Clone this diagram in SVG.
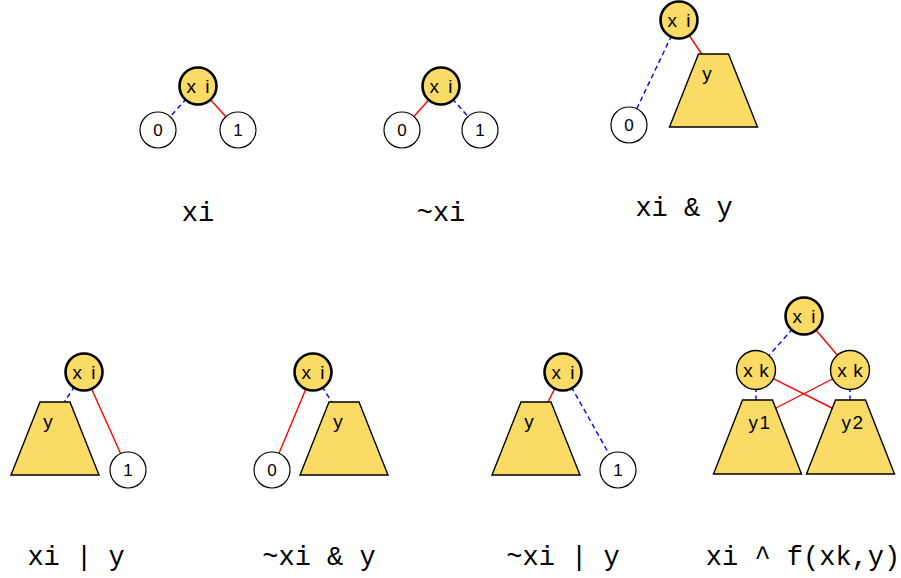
<svg xmlns="http://www.w3.org/2000/svg" width="901" height="578" viewBox="0 0 901 578">
<style>
.var{fill:#FADB66;stroke:#000;stroke-width:2.6}
.var2{fill:#FADB66;stroke:#000;stroke-width:1.4}
.term{fill:#fff;stroke:#000;stroke-width:1.2}
.trap{fill:#FADB66;stroke:#000;stroke-width:1.4;stroke-linejoin:miter}
.hi{stroke:#FF0000;stroke-width:1.4;fill:none}
.lo{stroke:#0000FF;stroke-width:1.4;stroke-dasharray:5,3.5;fill:none}
.nl{font-family:"Liberation Sans",Arial,sans-serif;font-size:19px;text-anchor:middle;fill:#000}
.tl{font-family:"Liberation Sans",Arial,sans-serif;font-size:17px;text-anchor:middle;fill:#000}
.cap{font-family:"Liberation Mono","Courier New",monospace;font-size:27px;text-anchor:middle;fill:#000}
</style>
<rect width="901" height="578" fill="#fff"/>
<g id="connectors">
<line class="lo" x1="198" y1="86" x2="158" y2="130"/>
<line class="hi" x1="198" y1="86" x2="238" y2="130"/>
<line class="hi" x1="441" y1="86" x2="402" y2="130"/>
<line class="lo" x1="441" y1="86" x2="480" y2="130"/>
<line class="lo" x1="679" y1="20" x2="629" y2="125"/>
<line class="hi" x1="679" y1="20" x2="703" y2="56"/>
<line class="lo" x1="84" y1="372" x2="63" y2="404"/>
<line class="hi" x1="84" y1="372" x2="128" y2="470"/>
<line class="hi" x1="313" y1="372" x2="272" y2="470"/>
<line class="lo" x1="313" y1="372" x2="333" y2="404"/>
<line class="hi" x1="563" y1="372" x2="547" y2="404"/>
<line class="lo" x1="563" y1="372" x2="618" y2="470"/>
<line class="lo" x1="804" y1="316" x2="756" y2="370"/>
<line class="hi" x1="804" y1="316" x2="850" y2="370"/>
<line class="lo" x1="756" y1="370" x2="756" y2="402"/>
<line class="lo" x1="850" y1="370" x2="850" y2="402"/>
<line class="hi" x1="756" y1="370" x2="836" y2="410"/>
<line class="hi" x1="850" y1="370" x2="772" y2="410"/>
</g>
<g id="d1">
<g id="d1-xi"><circle class="var" cx="198" cy="86" r="18.5"/><text class="nl" x="198" y="93" word-spacing="4">x i</text></g>
<g id="d1-0"><circle class="term" cx="158" cy="130" r="18"/><text class="tl" x="158" y="136">0</text></g>
<g id="d1-1"><circle class="term" cx="238" cy="130" r="18"/><text class="tl" x="238" y="136">1</text></g>
<text class="cap" x="198" y="221">xi</text>
</g>
<g id="d2">
<g id="d2-xi"><circle class="var" cx="441" cy="86" r="18.5"/><text class="nl" x="441" y="93" word-spacing="4">x i</text></g>
<g id="d2-0"><circle class="term" cx="402" cy="130" r="18"/><text class="tl" x="402" y="136">0</text></g>
<g id="d2-1"><circle class="term" cx="480" cy="130" r="18"/><text class="tl" x="480" y="136">1</text></g>
<text class="cap" x="441" y="221">~xi</text>
</g>
<g id="d3">
<g id="d3-xi"><circle class="var" cx="679" cy="20" r="18.5"/><text class="nl" x="679" y="27" word-spacing="4">x i</text></g>
<g id="d3-0"><circle class="term" cx="629" cy="125" r="18"/><text class="tl" x="629" y="131">0</text></g>
<g id="d3-y"><polygon class="trap" points="698.5,54 728.5,54 757.5,127 669.5,127"/><text class="nl" x="707" y="80">y</text></g>
<text class="cap" x="684" y="216">xi &amp; y</text>
</g>
<g id="d4">
<g id="d4-xi"><circle class="var" cx="84" cy="372" r="18.5"/><text class="nl" x="84" y="379" word-spacing="4">x i</text></g>
<g id="d4-y"><polygon class="trap" points="40,402 70,402 99,475 11,475"/><text class="nl" x="48" y="428">y</text></g>
<g id="d4-1"><circle class="term" cx="128" cy="470" r="18"/><text class="tl" x="128" y="476">1</text></g>
<text class="cap" x="76" y="565">xi | y</text>
</g>
<g id="d5">
<g id="d5-xi"><circle class="var" cx="313" cy="372" r="18.5"/><text class="nl" x="313" y="379" word-spacing="4">x i</text></g>
<g id="d5-y"><polygon class="trap" points="329,402 359,402 388,475 300,475"/><text class="nl" x="338" y="428">y</text></g>
<g id="d5-0"><circle class="term" cx="272" cy="470" r="18"/><text class="tl" x="272" y="476">0</text></g>
<text class="cap" x="319" y="565">~xi &amp; y</text>
</g>
<g id="d6">
<g id="d6-xi"><circle class="var" cx="563" cy="372" r="18.5"/><text class="nl" x="563" y="379" word-spacing="4">x i</text></g>
<g id="d6-y"><polygon class="trap" points="521,402 551,402 580,475 492,475"/><text class="nl" x="529" y="428">y</text></g>
<g id="d6-1"><circle class="term" cx="618" cy="470" r="18"/><text class="tl" x="618" y="476">1</text></g>
<text class="cap" x="563" y="565">~xi | y</text>
</g>
<g id="d7">
<g id="d7-xi"><circle class="var" cx="804" cy="316" r="18.5"/><text class="nl" x="804" y="323" word-spacing="4">x i</text></g>
<g id="d7-xk1"><circle class="var2" cx="756" cy="370" r="19.5"/><text class="nl" x="756" y="377" word-spacing="1">x k</text></g>
<g id="d7-xk2"><circle class="var2" cx="850" cy="370" r="19.5"/><text class="nl" x="850" y="377" word-spacing="1">x k</text></g>
<g id="d7-y1"><polygon class="trap" points="742.5,400 772.5,400 801.5,474 713.5,474"/><text class="nl" x="760" y="429" letter-spacing="1.5">y1</text></g>
<g id="d7-y2"><polygon class="trap" points="835.5,400 865.5,400 894.5,474 806.5,474"/><text class="nl" x="853" y="429" letter-spacing="1.5">y2</text></g>
<text class="cap" x="803" y="565">xi ^ f(xk,y)</text>
</g>
</svg>
